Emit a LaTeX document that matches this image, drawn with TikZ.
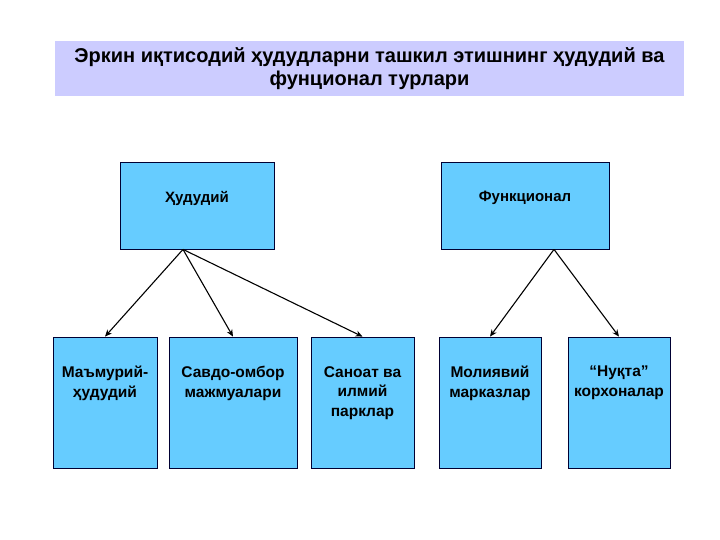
\documentclass[tikz,border=0pt]{standalone}
\usepackage{fontspec}
\setmainfont{Liberation Sans}
\usetikzlibrary{arrows.meta, positioning}
\definecolor{titleLilac}{HTML}{CCCCFF}
\definecolor{boxCyan}{HTML}{66CCFF}
\definecolor{edgeNavy}{HTML}{000033}

\begin{document}
\begin{tikzpicture}[x=1pt, y=-1pt,
    box/.style={rectangle, draw=edgeNavy, fill=boxCyan, line width=0.8pt, inner sep=0pt},
    lbl/.style={font=\fontsize{15.5}{19.5}\selectfont\bfseries, align=center, inner sep=0pt, anchor=north},
    harr/.style={-{Stealth[length=7pt, width=6pt]}, line width=1.1pt, black}
  ]
  \useasboundingbox (0,0) rectangle (720,540);

  \node[fill=titleLilac, minimum width=629pt, minimum height=55pt, align=center, inner sep=0pt,
    font=\fontsize{20}{23.5}\selectfont\bfseries] (title) at (369.5,68.5)
    {Эркин иқтисодий ҳудудларни ташкил этишнинг ҳудудий ва\\фунционал турлари};

  % two kinds
  \node[box, minimum width=154pt, minimum height=87pt] (hud) at (197,205.5) {};
  \node[box, minimum width=168pt, minimum height=87pt] (fun) at (525,205.5) {};

  % five types
  \node[box, minimum width=104pt, minimum height=131pt] (b1) at (105,402.5) {};
  \node[box, minimum width=128pt, minimum height=131pt] (b2) at (233,402.5) {};
  \node[box, minimum width=103pt, minimum height=131pt] (b3) at (362.5,402.5) {};
  \node[box, minimum width=102pt, minimum height=131pt] (b4) at (490,402.5) {};
  \node[box, minimum width=102pt, minimum height=131pt] (b5) at (619,402.5) {};

  \node[lbl, font=\fontsize{15}{19.5}\selectfont\bfseries] (hudt) at ([yshift=-29.5pt]hud.north) {Ҳудудий};
  \node[lbl, font=\fontsize{15}{19.5}\selectfont\bfseries] (funt) at ([yshift=-29.5pt]fun.north) {Функционал};
  \node[lbl] (b1t) at ([yshift=-29.5pt]b1.north) {Маъмурий-\\ҳудудий};
  \node[lbl] (b2t) at ([yshift=-29.5pt]b2.north) {Савдо-омбор\\мажмуалари};
  \node[lbl] (b3t) at ([yshift=-29.5pt]b3.north) {Саноат ва\\илмий\\парклар};
  \node[lbl] (b4t) at ([yshift=-29.5pt]b4.north) {Молиявий\\марказлар};
  \node[lbl] (b5t) at ([yshift=-29.5pt]b5.north) {“Нуқта”\\корхоналар};

  \draw[harr] ([xshift=-14pt]hud.south) -- (b1.north);
  \draw[harr] ([xshift=-14pt]hud.south) -- (b2.north);
  \draw[harr] ([xshift=-14pt]hud.south) -- (b3.north);
  \draw[harr] ([xshift=29pt]fun.south) -- (b4.north);
  \draw[harr] ([xshift=29pt]fun.south) -- (b5.north);
\end{tikzpicture}
\end{document}
